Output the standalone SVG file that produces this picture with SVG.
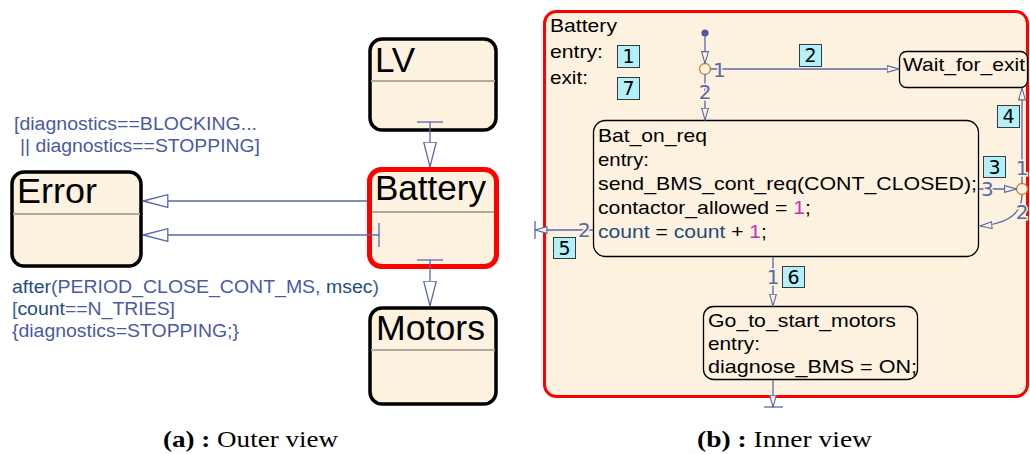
<svg xmlns="http://www.w3.org/2000/svg" width="1030" height="454" viewBox="0 0 1030 454">
<style>
.box{fill:#fdf2df;stroke:#000;stroke-width:3.5}
.div{stroke:#b5aa9a;stroke-width:2}
.big{font-family:"Liberation Sans",Arial,sans-serif;font-size:35px;fill:#000}
.lbl{font-family:"Liberation Sans",Arial,sans-serif;font-size:18px;fill:#4b5aa0}
.nv{fill:#1f4c7e}
.in{font-family:"Liberation Sans",Arial,sans-serif;font-size:19px;fill:#000}
.mg{fill:#c42fbf}
.st{fill:#fdf2df;stroke:#000;stroke-width:1.3}
.cn{fill:none;stroke:#5a68a8;stroke-width:1.3}
.num{font-family:"DejaVu Sans",sans-serif;font-size:20px;fill:#5a68a8;stroke:#fdf2df;stroke-width:3;paint-order:stroke}
.tag{fill:#b2f0fa;stroke:#3a3a3a;stroke-width:1}
.tagt{font-family:"DejaVu Sans",sans-serif;font-size:19px;fill:#000;text-anchor:middle}
.jn{fill:#fdf2df;stroke:#d0802e;stroke-width:1.3}
.cap{font-family:"Liberation Serif","Times New Roman",serif;font-size:23px;fill:#000}
</style>
<defs>
<marker id="bigW" viewBox="0 0 26 14" refX="25.5" refY="7" markerWidth="26" markerHeight="14" markerUnits="userSpaceOnUse" orient="auto"><path d="M0.7,0.7 L25.3,7 L0.7,13.3 Z" fill="#fff" stroke="#5a68a8" stroke-width="1.3"/></marker>
<marker id="smC" viewBox="0 0 13 8" refX="12.5" refY="4" markerWidth="13" markerHeight="8" markerUnits="userSpaceOnUse" orient="auto"><path d="M0.6,0.6 L12.4,4 L0.6,7.4 Z" fill="#fdf2df" stroke="#5a68a8" stroke-width="1.1"/></marker>
</defs>
<rect width="1030" height="454" fill="#fff"/>

<!-- Outer view nodes -->
<g id="LV"><rect class="box" x="370" y="39" width="126" height="91" rx="12"/><line class="div" x1="371" y1="81" x2="495" y2="81"/><text class="big" x="375" y="72">LV</text></g>
<g id="Battery-outer"><rect class="box" x="369.5" y="169.5" width="127" height="97" rx="12" style="stroke:#ff0000;stroke-width:5"/><line class="div" x1="372" y1="212" x2="494" y2="212"/><text class="big" x="375" y="200" textLength="111" lengthAdjust="spacingAndGlyphs">Battery</text></g>
<g id="Motors"><rect class="box" x="370" y="308" width="126" height="96" rx="12"/><line class="div" x1="371" y1="350" x2="495" y2="350"/><text class="big" x="376" y="340" textLength="109" lengthAdjust="spacingAndGlyphs">Motors</text></g>
<g id="Error"><rect class="box" x="12" y="172" width="129" height="94" rx="12"/><line class="div" x1="13" y1="214" x2="140" y2="214"/><text class="big" x="17" y="203" textLength="80" lengthAdjust="spacingAndGlyphs">Error</text></g>

<!-- Inner view nodes -->
<g id="Battery-inner">
<rect x="544.5" y="11.5" width="483" height="385" rx="12" fill="#fdf2df" stroke="#ff0000" stroke-width="3"/>
<text class="in" x="550" y="32" textLength="67" lengthAdjust="spacingAndGlyphs">Battery</text>
<text class="in" x="550" y="58" textLength="53" lengthAdjust="spacingAndGlyphs">entry:</text>
<text class="in" x="550" y="84" textLength="38" lengthAdjust="spacingAndGlyphs">exit:</text>
<rect class="tag" x="617.5" y="45.5" width="22" height="22"/><text class="tagt" x="628.5" y="63">1</text>
<rect class="tag" x="617.5" y="77.5" width="22" height="22"/><text class="tagt" x="628.5" y="95">7</text>
</g>
<g id="Wait_for_exit"><rect class="st" x="899.5" y="51.5" width="128" height="36" rx="7"/><text class="in" x="903" y="71" textLength="122" lengthAdjust="spacingAndGlyphs">Wait_for_exit</text></g>
<g id="Bat_on_req">
<rect class="st" x="593.5" y="120.5" width="385" height="136" rx="12"/>
<text class="in" x="598" y="142" textLength="109" lengthAdjust="spacingAndGlyphs">Bat_on_req</text>
<text class="in" x="598" y="166" textLength="51" lengthAdjust="spacingAndGlyphs">entry:</text>
<text class="in" x="598" y="190" textLength="379" lengthAdjust="spacingAndGlyphs">send_BMS_cont_req(CONT_CLOSED);</text>
<text class="in" x="598" y="214" textLength="213" lengthAdjust="spacingAndGlyphs">contactor_allowed = <tspan class="mg">1</tspan>;</text>
<text class="in" x="598" y="238" textLength="169" lengthAdjust="spacingAndGlyphs"><tspan class="nv">count</tspan> = <tspan class="nv">count</tspan> + <tspan class="mg">1</tspan>;</text>
</g>
<g id="Go_to_start_motors">
<rect class="st" x="703.5" y="306.5" width="214" height="73" rx="10"/>
<text class="in" x="708" y="327" textLength="188" lengthAdjust="spacingAndGlyphs">Go_to_start_motors</text>
<text class="in" x="708" y="350" textLength="52" lengthAdjust="spacingAndGlyphs">entry:</text>
<text class="in" x="708" y="373" textLength="209" lengthAdjust="spacingAndGlyphs">diagnose_BMS = ON;</text>
</g>
<g id="junction-top"><circle class="jn" cx="705" cy="69" r="5.5"/></g>
<g id="junction-right"><circle class="jn" cx="1022" cy="189" r="5.5"/></g>

<!-- Connectors -->
<g id="connectors">
<line class="cn" x1="417" y1="122" x2="443" y2="122"/>
<line class="cn" x1="430" y1="122" x2="430" y2="167" marker-end="url(#bigW)"/>
<line class="cn" x1="417" y1="260" x2="443" y2="260"/>
<line class="cn" x1="430" y1="260" x2="430" y2="306" marker-end="url(#bigW)"/>
<path class="cn" d="M367,201 H143" marker-end="url(#bigW)"/>
<line class="cn" x1="379" y1="223" x2="379" y2="247"/>
<path class="cn" d="M379,235 H143" marker-end="url(#bigW)"/>

<circle cx="705" cy="33" r="3.6" fill="#4a56a0"/>
<line class="cn" x1="705" y1="33" x2="705" y2="63.5" marker-end="url(#smC)"/>
<line class="cn" x1="705" y1="74.5" x2="705" y2="120" marker-end="url(#smC)"/>
<line class="cn" x1="710.5" y1="69" x2="899" y2="69" marker-end="url(#smC)"/>
<line class="cn" x1="1022" y1="183.5" x2="1022" y2="88" marker-end="url(#smC)"/>
<line class="cn" x1="979" y1="189" x2="1016.5" y2="189" marker-end="url(#smC)"/>
<path class="cn" d="M1022,194.5 C1022,214 1006,224 980,226" marker-end="url(#smC)"/>
<line class="cn" x1="593" y1="230" x2="535" y2="230" marker-end="url(#smC)"/>
<line class="cn" x1="535" y1="221" x2="535" y2="239"/>
<line class="cn" x1="773" y1="257" x2="773" y2="306" marker-end="url(#smC)"/>
<line class="cn" x1="773" y1="380" x2="773" y2="407" marker-end="url(#smC)"/>
<line class="cn" x1="764" y1="407" x2="783" y2="407"/>

<text class="num" x="713" y="77">1</text>
<text class="num" x="705" y="99" text-anchor="middle">2</text>
<text class="num" x="1022" y="175" text-anchor="middle">1</text>
<text class="num" x="981" y="196">3</text>
<text class="num" x="1022" y="219" text-anchor="middle">2</text>
<text class="num" x="578" y="237">2</text>
<text class="num" x="773" y="284" text-anchor="middle">1</text>

<rect class="tag" x="799.5" y="44.5" width="22" height="22"/><text class="tagt" x="810.5" y="62">2</text>
<rect class="tag" x="983.5" y="156.5" width="22" height="21"/><text class="tagt" x="994.5" y="174">3</text>
<rect class="tag" x="997.5" y="105.5" width="22" height="22"/><text class="tagt" x="1008.5" y="123">4</text>
<rect class="tag" x="553.5" y="237.5" width="22" height="21"/><text class="tagt" x="564.5" y="255">5</text>
<rect class="tag" x="782.5" y="266.5" width="22" height="21"/><text class="tagt" x="793.5" y="284">6</text>

<text class="lbl" x="14" y="130" textLength="243" lengthAdjust="spacingAndGlyphs">[diagnostics==BLOCKING...</text>
<text class="lbl" x="20" y="152" textLength="240" lengthAdjust="spacingAndGlyphs">|| diagnostics==STOPPING]</text>
<text class="lbl" x="12" y="293" textLength="367" lengthAdjust="spacingAndGlyphs"><tspan class="nv">after</tspan>(PERIOD_CLOSE_CONT_MS, <tspan class="nv">msec</tspan>)</text>
<text class="lbl" x="12" y="315" textLength="163" lengthAdjust="spacingAndGlyphs">[<tspan class="nv">count</tspan>==N_TRIES]</text>
<text class="lbl" x="12" y="337" textLength="227" lengthAdjust="spacingAndGlyphs">{diagnostics=STOPPING;}</text>
</g>

<text class="cap" x="163" y="447" textLength="175" lengthAdjust="spacingAndGlyphs"><tspan font-weight="bold">(a) :</tspan> Outer view</text>
<text class="cap" x="697" y="447" textLength="175" lengthAdjust="spacingAndGlyphs"><tspan font-weight="bold">(b) :</tspan> Inner view</text>
</svg>
